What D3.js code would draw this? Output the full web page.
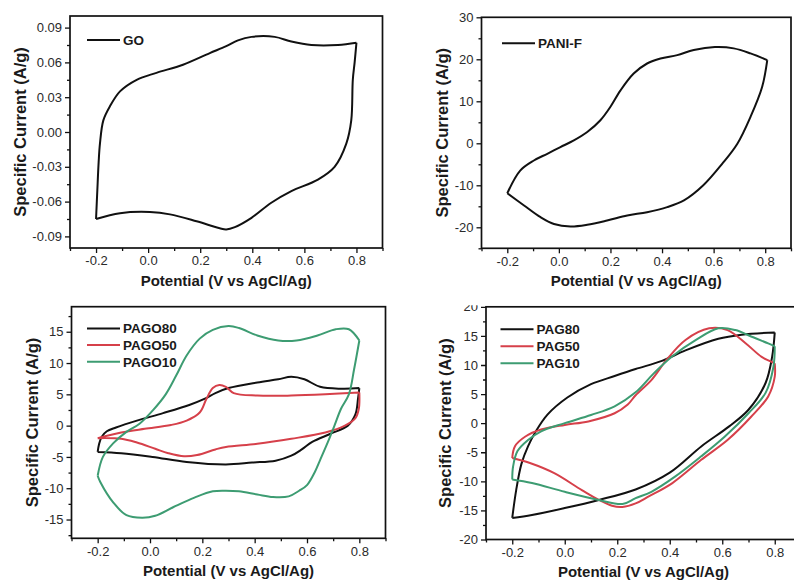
<!DOCTYPE html>
<html>
<head>
<meta charset="utf-8">
<script src="https://cdn.jsdelivr.net/npm/d3@7"></script>
<style>
  body { margin: 0; background: #fff; }
  svg { display: block; }
  text { font-family: "Liberation Sans", Arial, Helvetica, sans-serif; }
</style>
</head>
<body>
<svg id="chart" width="794" height="582"></svg>
<script>
// ---- Tick values ----
const potentialTicks = [-0.2, 0.0, 0.2, 0.4, 0.6, 0.8];
const goCurrentTicks = [-0.09, -0.06, -0.03, 0.00, 0.03, 0.06, 0.09];
const paniCurrentTicks = [-20, -10, 0, 10, 20, 30];
const pagoCurrentTicks = [-15, -10, -5, 0, 5, 10, 15];
const pagCurrentTicks = [-20, -15, -10, -5, 0, 5, 10, 15, 20];

// ---- Cyclic voltammograms: [potential (V), specific current (A/g)] ----
// Each loop: anodic sweep from -0.2 V to 0.8 V, then cathodic sweep back.
const GO = [
  [-0.2,-0.075],[-0.195,-0.05],[-0.19,-0.026],[-0.185,-0.01],[-0.172,0.010],[-0.147,0.022],
  [-0.108,0.035],[-0.044,0.045],[0.032,0.051],[0.134,0.058],[0.237,0.068],[0.30,0.074],
  [0.345,0.079],[0.397,0.082],[0.486,0.082],[0.55,0.078],[0.627,0.075],[0.729,0.075],[0.80,0.077],
  [0.793,0.060],[0.786,0.045],[0.780,0.010],[0.761,-0.010],[0.716,-0.030],[0.652,-0.041],
  [0.55,-0.051],[0.473,-0.061],[0.397,-0.074],[0.333,-0.082],[0.30,-0.084],[0.275,-0.083],
  [0.186,-0.077],[0.084,-0.071],[0.007,-0.069],[-0.108,-0.070],[-0.2,-0.075]
];
const PANI_F = [
  [-0.2,-11.9],[-0.15,-6.5],[-0.097,-4.1],[-0.045,-2.5],[0.006,-0.9],[0.058,0.7],[0.11,2.7],
  [0.161,5.5],[0.20,8.7],[0.239,12.6],[0.29,16.6],[0.342,19.0],[0.394,20.2],[0.459,21.0],
  [0.523,22.2],[0.605,22.9],[0.678,22.6],[0.743,21.4],[0.808,19.8],
  [0.788,13.4],[0.743,6.3],[0.692,-0.1],[0.633,-4.9],[0.56,-10.0],[0.485,-13.6],[0.42,-15.2],
  [0.342,-16.4],[0.265,-17.2],[0.187,-18.4],[0.11,-19.4],[0.045,-19.8],[-0.019,-19.2],
  [-0.071,-17.6],[-0.135,-14.8],[-0.2,-11.9]
];
const PAGO80 = [
  [-0.2,-4.2],[-0.195,-3.0],[-0.185,-1.8],[-0.165,-0.9],[-0.13,-0.3],[-0.05,0.8],[0.05,2.0],
  [0.15,3.3],[0.21,4.3],[0.25,5.2],[0.30,6.0],[0.41,6.9],[0.49,7.4],[0.54,7.8],[0.59,7.4],
  [0.65,6.2],[0.73,5.9],[0.80,6.0],
  [0.795,4.3],[0.785,1.8],[0.756,0.0],[0.69,-1.3],[0.62,-2.6],[0.58,-3.8],[0.54,-4.8],
  [0.48,-5.6],[0.39,-5.9],[0.29,-6.2],[0.14,-5.8],[0.01,-5.0],[-0.11,-4.4],[-0.2,-4.2]
];
const PAGO50 = [
  [-0.2,-2.0],[-0.11,-1.1],[-0.02,-0.5],[0.08,0.1],[0.14,0.8],[0.19,2.1],[0.215,4.2],
  [0.24,6.0],[0.265,6.5],[0.29,6.2],[0.32,5.2],[0.41,4.8],[0.54,4.8],[0.67,5.0],[0.80,5.3],
  [0.798,2.7],[0.785,1.2],[0.745,0.0],[0.67,-1.1],[0.54,-2.1],[0.41,-2.9],[0.29,-3.4],
  [0.25,-3.8],[0.18,-4.7],[0.13,-4.9],[0.07,-4.4],[0.02,-3.7],[-0.05,-2.7],[-0.11,-2.1],[-0.2,-2.0]
];
const PAGO10 = [
  [-0.2,-8.0],[-0.18,-5.0],[-0.14,-2.8],[-0.09,-1.0],[-0.04,0.3],[0.01,2.4],[0.06,5.0],
  [0.10,8.0],[0.14,11.2],[0.19,13.9],[0.24,15.3],[0.30,15.9],[0.34,15.6],[0.41,14.4],
  [0.49,13.6],[0.56,13.6],[0.64,14.4],[0.71,15.4],[0.76,15.4],[0.80,13.6],
  [0.78,9.0],[0.76,5.0],[0.73,2.7],[0.705,0.0],[0.68,-2.6],[0.65,-5.5],[0.63,-7.4],
  [0.60,-9.5],[0.57,-10.4],[0.53,-11.3],[0.47,-11.4],[0.41,-11.0],[0.34,-10.5],[0.29,-10.4],
  [0.24,-10.5],[0.17,-11.5],[0.09,-13.0],[0.02,-14.4],[-0.03,-14.7],[-0.09,-14.3],
  [-0.14,-12.3],[-0.19,-9.0],[-0.2,-8.0]
];
const PAG80 = [
  [-0.2,-16.3],[-0.185,-11.5],[-0.165,-7.0],[-0.14,-4.0],[-0.11,-1.4],[-0.065,1.5],[0.01,4.4],
  [0.10,6.7],[0.19,8.1],[0.27,9.3],[0.37,10.7],[0.46,12.5],[0.585,14.5],[0.674,15.2],[0.80,15.6],
  [0.79,11.4],[0.765,6.9],[0.70,2.3],[0.625,-0.6],[0.52,-4.0],[0.40,-8.5],[0.27,-11.4],
  [0.13,-13.2],[0.0,-14.6],[-0.125,-15.8],[-0.2,-16.3]
];
const PAG50 = [
  [-0.2,-6.0],[-0.19,-4.0],[-0.15,-2.3],[-0.09,-1.1],[0.0,-0.3],[0.09,0.3],[0.19,1.7],
  [0.24,3.2],[0.27,4.8],[0.33,7.4],[0.39,11.0],[0.46,14.3],[0.55,16.3],[0.62,16.0],
  [0.69,13.7],[0.75,11.4],[0.80,10.3],
  [0.80,8.0],[0.775,4.6],[0.71,1.1],[0.62,-2.9],[0.52,-6.3],[0.41,-10.3],[0.32,-12.6],
  [0.27,-13.8],[0.22,-14.4],[0.18,-14.2],[0.13,-13.2],[0.065,-11.5],[-0.04,-8.6],
  [-0.13,-6.9],[-0.2,-6.0]
];
const PAG10 = [
  [-0.2,-9.7],[-0.197,-7.5],[-0.18,-4.8],[-0.14,-2.9],[-0.09,-1.4],[0.0,0.0],[0.10,1.4],
  [0.19,2.9],[0.27,5.3],[0.34,8.6],[0.41,11.5],[0.50,14.3],[0.585,16.3],[0.65,16.0],
  [0.71,14.9],[0.775,13.7],[0.80,13.2],
  [0.795,9.7],[0.765,5.2],[0.70,1.7],[0.61,-2.3],[0.52,-5.7],[0.42,-9.2],[0.33,-11.8],
  [0.27,-12.9],[0.22,-13.9],[0.13,-13.2],[0.0,-11.8],[-0.125,-10.3],[-0.2,-9.7]
];

const xTitle = "Potential (V vs AgCl/Ag)";
const yTitle = "Specific Current (A/g)";
const BLACK = "#111111", RED = "#d6404a", GREEN = "#3d9c72";

// ---- Panel layout ----
const panels = [
  { left: 70,  top: 16,    right: 382.5, bottom: 248,  yDomain: [-0.10, 0.10], yTicks: goCurrentTicks,
    yFmt: ".2f", yMinorStep: 0.015, yTitleX: 20, legend: { x: 87, y: 40, dy: 16 },
    series: [{ name: "GO", data: GO, color: BLACK }] },
  { left: 481.5, top: 17.3, right: 791, bottom: 248.3, yDomain: [-25, 30], yTicks: paniCurrentTicks,
    yFmt: "d", yMinorStep: 5, yTitleX: 442, legend: { x: 502, y: 43.3, dy: 16 },
    series: [{ name: "PANI-F", data: PANI_F, color: BLACK }] },
  { left: 71.5, top: 306.7, right: 385.5, bottom: 538.3, yDomain: [-18, 19], yTicks: pagoCurrentTicks,
    yFmt: "d", yMinorStep: 2.5, yTitleX: 32, legend: { x: 87, y: 328.5, dy: 16.6 },
    series: [{ name: "PAGO80", data: PAGO80, color: BLACK },
             { name: "PAGO50", data: PAGO50, color: RED },
             { name: "PAGO10", data: PAGO10, color: GREEN }] },
  { left: 486, top: 306.8, right: 801, bottom: 539.5, yDomain: [-20, 20], yTicks: pagCurrentTicks,
    yFmt: "d", yMinorStep: 2.5, yTitleX: 445, legend: { x: 500.5, y: 329.3, dy: 17 },
    clipTop: 305.2,
    series: [{ name: "PAG80", data: PAG80, color: BLACK },
             { name: "PAG50", data: PAG50, color: RED },
             { name: "PAG10", data: PAG10, color: GREEN }] }
];

const svg = d3.select("#chart");
const hyphen = f => d => d3.format(f)(d).replace("\u2212", "-");

// Minor ticks sit halfway between the labelled ones.
function minorValues(domain, step) {
  const out = [];
  const [a, b] = domain;
  const start = Math.ceil((a - 1e-9) / step);
  for (let k = start; k * step <= b + 1e-9; k++) {
    const v = +(k * step).toFixed(6);
    if (Math.abs(Math.round(v / (2 * step)) * 2 * step - v) > 1e-9) out.push(v);
  }
  return out;
}

panels.forEach((p, i) => {
  const g = svg.append("g");
  if (p.clipTop !== undefined) {
    const id = "clip" + i;
    svg.append("defs").append("clipPath").attr("id", id)
      .append("rect").attr("x", 380).attr("y", p.clipTop).attr("width", 420).attr("height", 300);
    g.attr("clip-path", `url(#${id})`);
  }

  const x = d3.scaleLinear().domain([-0.3, 0.9]).range([p.left, p.right]);
  const y = d3.scaleLinear().domain(p.yDomain).range([p.bottom, p.top]);

  // minor ticks
  g.append("g").attr("transform", `translate(0,${p.bottom})`)
    .call(d3.axisBottom(x).tickValues(minorValues([-0.3, 0.9], 0.1)).tickSize(3).tickFormat(""))
    .call(a => a.select(".domain").remove());
  g.append("g").attr("transform", `translate(${p.left},0)`)
    .call(d3.axisLeft(y).tickValues(minorValues(p.yDomain, p.yMinorStep)).tickSize(3).tickFormat(""))
    .call(a => a.select(".domain").remove());

  // major ticks with labels
  const xa = g.append("g").attr("transform", `translate(0,${p.bottom})`)
    .call(d3.axisBottom(x).tickValues(potentialTicks).tickSize(5).tickPadding(3).tickFormat(hyphen(".1f")));
  const ya = g.append("g").attr("transform", `translate(${p.left},0)`)
    .call(d3.axisLeft(y).tickValues(p.yTicks).tickSize(5).tickPadding(3).tickFormat(hyphen(p.yFmt)));
  [xa, ya].forEach(a => {
    a.select(".domain").remove();
    a.selectAll("text").attr("font-size", 13).attr("fill", "#2a2a2a")
      .attr("font-family", '"Liberation Sans", Arial, sans-serif');
  });
  g.selectAll(".tick line").attr("stroke", BLACK).attr("stroke-width", 1.3);

  // frame
  g.append("rect").attr("x", p.left).attr("y", p.top)
    .attr("width", p.right - p.left).attr("height", p.bottom - p.top)
    .attr("fill", "none").attr("stroke", BLACK).attr("stroke-width", 1.7);

  // loops: split each loop at the switching potential so the corners stay sharp
  const line = d3.line().x(d => x(d[0])).y(d => y(d[1])).curve(d3.curveCatmullRom.alpha(0.5));
  p.series.forEach(s => {
    let iMax = 0;
    s.data.forEach((d, k) => { if (d[0] > s.data[iMax][0]) iMax = k; });
    const path = line(s.data.slice(0, iMax + 1)) + line(s.data.slice(iMax));
    g.append("path").attr("d", path).attr("fill", "none")
      .attr("stroke", s.color).attr("stroke-width", 2).attr("stroke-linejoin", "miter");
  });

  // legend
  p.series.forEach((s, k) => {
    const ly = p.legend.y + k * p.legend.dy;
    g.append("line").attr("x1", p.legend.x).attr("x2", p.legend.x + 33)
      .attr("y1", ly).attr("y2", ly).attr("stroke", s.color).attr("stroke-width", 2);
    g.append("text").attr("x", p.legend.x + 36).attr("y", ly).attr("dy", "0.36em")
      .attr("font-size", 13.5).attr("font-weight", "bold").attr("fill", "#1a1a1a").text(s.name);
  });

  // axis titles
  g.append("text").attr("x", x(0.3)).attr("y", p.bottom + 37.5).attr("text-anchor", "middle")
    .attr("font-size", 15).attr("font-weight", "bold").attr("fill", "#1a1a1a").text(xTitle);
  g.append("text").attr("transform", `translate(${p.yTitleX},${(p.top + p.bottom) / 2}) rotate(-90)`)
    .attr("text-anchor", "middle").attr("dy", "0.36em")
    .attr("font-size", 16.5).attr("font-weight", "bold").attr("fill", "#1a1a1a").text(yTitle);
});
</script>
</body>
</html>
